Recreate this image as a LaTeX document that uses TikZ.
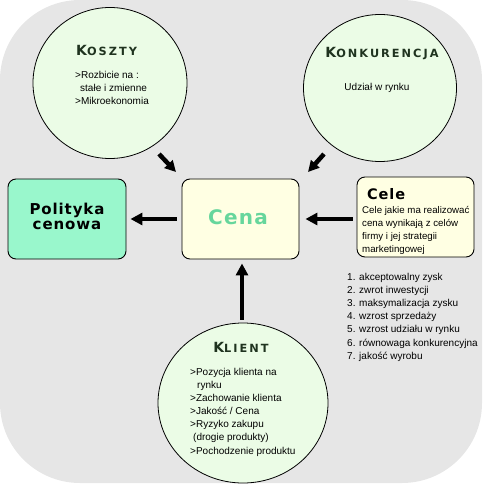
\documentclass[tikz,border=0pt]{standalone}
\usepackage{fontspec}
\setmainfont{Liberation Sans}
\newfontfamily\titlefont[LetterSpace=6]{DejaVu Sans}
\newfontfamily\capfont[LetterSpace=18]{DejaVu Sans}
\usetikzlibrary{arrows.meta,shapes.geometric}
\definecolor{bg}{HTML}{E6E6E6}
\definecolor{circ}{HTML}{EBFCE6}
\definecolor{mint}{HTML}{99F7CC}
\definecolor{cream}{HTML}{FFFFE3}
\definecolor{cenagreen}{HTML}{66D69C}
\definecolor{titledark}{HTML}{1F331F}
\newcommand\fakesc[2]{{\fontsize{14}{14}\selectfont #1}{\fontsize{11.3}{11.3}\selectfont #2}}
\tikzset{
  bubble/.style={ellipse, draw=black, line width=0.8pt, fill=circ, inner sep=0pt},
  boxnode/.style={rectangle, rounded corners=8pt, draw=black, line width=0.9pt, inner sep=0pt},
  body/.style={anchor=base west, inner sep=0pt, font=\fontsize{10}{13}\selectfont},
  bodys/.style={anchor=base west, inner sep=0pt, font=\fontsize{9.7}{13}\selectfont},
  bubbletitle/.style={anchor=base, inner sep=0pt, text=titledark, font=\capfont\bfseries},
  arr/.style={line width=4pt, -{Triangle[length=12pt,width=12pt]}},
  sarr/.style={line width=4.5pt, -{Triangle[length=11pt,width=11pt]}}
}
\begin{document}
\begin{tikzpicture}[x=1pt,y=-1pt]
\useasboundingbox (0,0) rectangle (484,486);
\fill[bg, rounded corners=80pt] (0,0) rectangle (482,483);

% bubbles
\node[bubble, minimum width=154pt, minimum height=151pt] (koszty) at (110,83) {};
\node[bubble, minimum width=153pt, minimum height=147pt] (konk) at (380,88) {};
\node[bubble, minimum width=170pt, minimum height=160pt] (klient) at (243,403) {};

% boxes
\node[boxnode, fill=mint, minimum width=118pt, minimum height=80pt] (pol) at (67,219) {};
\node[boxnode, fill=cream, minimum width=117pt, minimum height=80pt] (cena) at (240.5,219) {};
\node[boxnode, fill=cream, minimum width=117pt, minimum height=80pt] (cele) at (415.5,217) {};

% Koszty text
\node[bubbletitle, anchor=base west] (kosztyT) at (76,56) {\fakesc{K}{OSZTY}};
\node[body] (k1) at (75,79) {>Rozbicie na :};
\node[body] (k2) at (80,92) {stałe i zmienne};
\node[body] (k3) at (75,105) {>Mikroekonomia};

% Konkurencja text
\node[bubbletitle] (konkT) at (382,58) {\fakesc{K}{ONKURENCJA}};
\node[anchor=base, inner sep=0pt, font=\fontsize{10}{13}\selectfont] (konk1) at (377,91) {Udział w rynku};

% Polityka / Cena
\node[anchor=base, inner sep=0pt, font=\titlefont\bfseries\fontsize{15}{15}\selectfont] (polT1) at (67,214) {Polityka};
\node[anchor=base, inner sep=0pt, font=\titlefont\bfseries\fontsize{15}{15}\selectfont] (polT2) at (67,229) {cenowa};
\node[anchor=base, inner sep=0pt, text=cenagreen, font=\titlefont\bfseries\fontsize{20}{20}\selectfont] (cenaT) at (238,224) {Cena};

% Cele text
\node[anchor=base west, inner sep=0pt, font=\titlefont\bfseries\fontsize{14.5}{14.5}\selectfont] (celeT) at (367,199) {Cele};
\node[bodys] (c1) at (362,213) {Cele jakie ma realizować};
\node[bodys] (c2) at (362,226) {cena wynikają z celów};
\node[bodys] (c3) at (362,239) {firmy i jej strategii};
\node[bodys] (c4) at (362,252) {marketingowej};

% list
\node[body] (l1) at (347,280) {1. akceptowalny zysk};
\node[body] (l2) at (347,293.2) {2. zwrot inwestycji};
\node[body] (l3) at (347,306.4) {3. maksymalizacja zysku};
\node[body] (l4) at (347,319.6) {4. wzrost sprzedaży};
\node[body] (l5) at (347,332.8) {5. wzrost udziału w rynku};
\node[body] (l6) at (347,346) {6. równowaga konkurencyjna};
\node[body] (l7) at (347,359.2) {7. jakość wyrobu};

% Klient text
\node[bubbletitle] (klientT) at (241,352) {\fakesc{K}{LIENT}};
\node[body] (p1) at (190,375) {>Pozycja klienta na};
\node[body] (p2) at (197,388) {rynku};
\node[body] (p3) at (190,401) {>Zachowanie klienta};
\node[body] (p4) at (190,414) {>Jakość / Cena};
\node[body] (p5) at (190,427) {>Ryzyko zakupu};
\node[body] (p6) at (193,440) {(drogie produkty)};
\node[body] (p7) at (190,454) {>Pochodzenie produktu};

% arrows
\draw[arr, shorten <=5pt, shorten >=4pt] (cena.west) -- (pol.east);
\draw[arr, shorten <=4pt, shorten >=6pt] (cele.west |- cena.east) -- (cena.east);
\draw[arr, shorten <=3pt, shorten >=4pt] (klient.north -| cena.south) ++(1.5,0) coordinate (kl0) (kl0) -- (kl0 |- cena.south);
\coordinate (ka) at (159,154);
\coordinate (kb) at (176,172);
\draw[sarr] (ka) -- (kb);
\coordinate (na) at (324,154);
\coordinate (nb) at (308,172);
\draw[sarr] (na) -- (nb);
\end{tikzpicture}
\end{document}
